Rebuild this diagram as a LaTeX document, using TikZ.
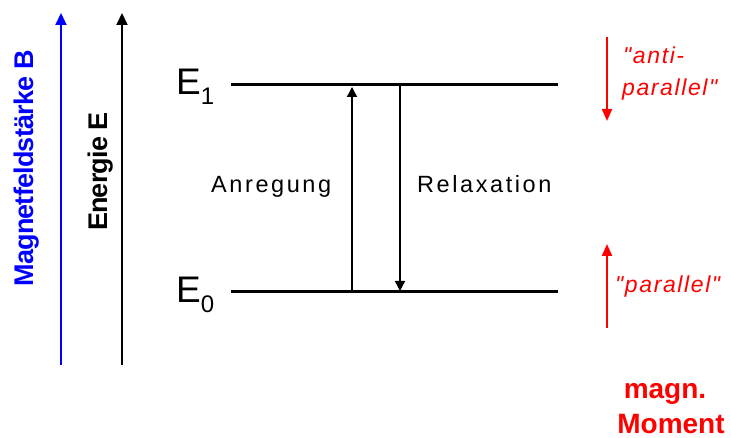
\documentclass[tikz,border=0pt]{standalone}
\usepackage{fontspec}
\setmainfont{Liberation Sans}
\newfontfamily\wideSans[LetterSpace=11]{Liberation Sans}
\newfontfamily\redSans[LetterSpace=7]{Liberation Sans}
\newfontfamily\tightSans[LetterSpace=-3]{Liberation Sans}
\usetikzlibrary{arrows.meta}
\definecolor{pblue}{RGB}{0,0,255}
\definecolor{pred}{RGB}{255,0,0}
\tikzset{
  axisarrow/.style={line width=2pt,-{Triangle[length=12pt,width=11pt]}},
  level/.style={line width=3pt},
  transarrow/.style={line width=1.4pt,-{Triangle[length=10pt,width=10pt]}},
  momarrow/.style={line width=2pt,pred,-{Triangle[length=12pt,width=10pt]}},
  lbl/.style={inner sep=0pt},
}
\begin{document}
\begin{tikzpicture}[x=1pt,y=-1pt]
\useasboundingbox (0,0) rectangle (731,438);
\fill[white] (0,0) rectangle (731,438);
% axes
\coordinate (bbot) at (61,365);
\coordinate (btop) at (61,13);
\coordinate (ebot) at (122,365);
\coordinate (etop) at (122,13);
\draw[axisarrow,pblue] (bbot) -- (btop);
\draw[axisarrow,black] (ebot) -- (etop);
\node[lbl,rotate=90,anchor=base,text=pblue] (blabel) at (33,168.5)
  {\fontsize{27}{30}\selectfont\tightSans\bfseries Magnetfeldstärke B};
\node[lbl,rotate=90,anchor=base] (elabel) at (107,171.5)
  {\fontsize{27}{30}\selectfont\tightSans\bfseries Energie E};
% levels
\coordinate (e1l) at (231,85);
\coordinate (e1r) at (558,85);
\coordinate (e0l) at (231,292);
\coordinate (e0r) at (558,292);
\draw[level] (e1l) -- (e1r);
\draw[level] (e0l) -- (e0r);
\node[lbl,anchor=base west] (E1) at (176,95)
  {\fontsize{37}{40}\selectfont E\raisebox{-10pt}{\fontsize{24}{24}\selectfont 1}};
\node[lbl,anchor=base west] (E0) at (176,303)
  {\fontsize{37}{40}\selectfont E\raisebox{-10pt}{\fontsize{24}{24}\selectfont 0}};
% transitions
\coordinate (a0) at (352,292);
\coordinate (a1) at (352,87);
\coordinate (r1) at (400,86);
\coordinate (r0) at (400,291);
\draw[transarrow] (a0) -- (a1);
\draw[transarrow] (r1) -- (r0);
\node[lbl,anchor=base west] (anr) at (211,193)
  {\fontsize{23.5}{26}\selectfont\wideSans Anregung};
\node[lbl,anchor=base west] (rel) at (417,193)
  {\fontsize{23.5}{26}\selectfont\wideSans Relaxation};
% magnetic moments
\coordinate (m1t) at (607,37);
\coordinate (m1b) at (607,121);
\coordinate (m0b) at (607,328);
\coordinate (m0t) at (607,244);
\draw[momarrow] (m1t) -- (m1b);
\draw[momarrow] (m0b) -- (m0t);
\node[lbl,anchor=base west,text=pred] (anti1) at (623,64)
  {\fontsize{23}{26}\selectfont\redSans\itshape "anti-};
\node[lbl,anchor=base west,text=pred] (anti2) at (622,96)
  {\fontsize{23}{26}\selectfont\redSans\itshape parallel"};
\node[lbl,anchor=base west,text=pred] (par) at (615,293)
  {\fontsize{23}{26}\selectfont\redSans\itshape "parallel"};
\node[lbl,anchor=base,text=pred] (mag1) at (665,398)
  {\fontsize{28}{30}\selectfont\bfseries magn.};
\node[lbl,anchor=base,text=pred] (mag2) at (671,433)
  {\fontsize{28}{30}\selectfont\bfseries Moment};
\end{tikzpicture}
\end{document}
